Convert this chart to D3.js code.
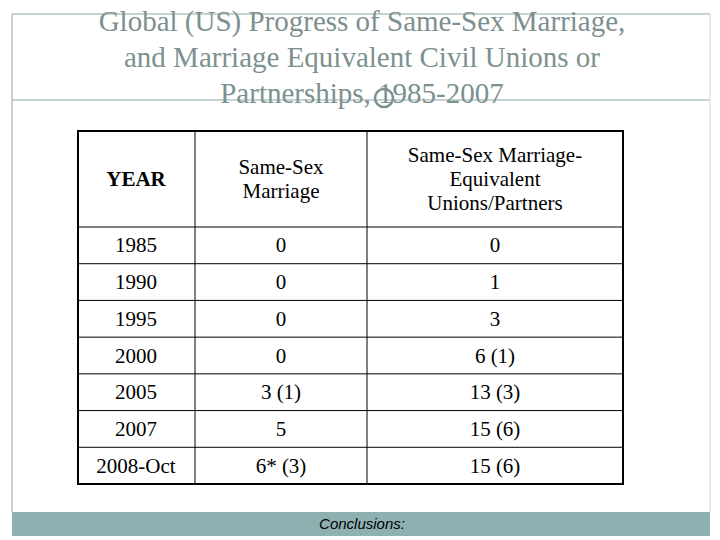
<!DOCTYPE html>
<html>
<head>
<meta charset="utf-8">
<script src="https://cdn.jsdelivr.net/npm/d3@7"></script>
<style>body{margin:0;background:#fff}</style>
</head>
<body>
<div id="slide"></div>
<script>
// table content
const titleLines = ["Global (US) Progress of Same-Sex Marriage,", "and Marriage Equivalent Civil Unions or", "Partnerships, 1985-2007"];
const headers = [["YEAR"], ["Same-Sex", "Marriage"], ["Same-Sex Marriage-", "Equivalent", "Unions/Partners"]];
const years = ["1985", "1990", "1995", "2000", "2005", "2007", "2008-Oct"];
const marriage = ["0", "0", "0", "0", "3 (1)", "5", "6* (3)"];
const unions = ["0", "1", "3", "6 (1)", "13 (3)", "15 (6)", "15 (6)"];

const width = 720, height = 540;
const svg = d3.select("#slide").append("svg")
  .attr("width", width).attr("height", height);

const frame = "#8fa5a5";
// slide frame lines
svg.append("line").attr("x1", 12).attr("x2", 710).attr("y1", 14).attr("y2", 14).attr("stroke", frame);
svg.append("line").attr("x1", 12).attr("x2", 710).attr("y1", 100).attr("y2", 100).attr("stroke", frame);
svg.append("line").attr("x1", 12).attr("x2", 12).attr("y1", 14).attr("y2", 512).attr("stroke", frame);
svg.append("line").attr("x1", 710).attr("x2", 710).attr("y1", 14).attr("y2", 512).attr("stroke", "#d0d8d8");
svg.append("rect").attr("x", 12).attr("y", 512).attr("width", 698).attr("height", 24).attr("fill", "#8fb0b0");
svg.append("text").attr("x", 362).attr("y", 529).attr("text-anchor", "middle")
  .attr("font-family", "Liberation Sans").attr("font-style", "italic").attr("font-size", 15)
  .text("Conclusions:");

svg.selectAll(".title").data(titleLines).enter().append("text")
  .attr("x", 362).attr("y", (d, i) => 31 + i * 36)
  .attr("text-anchor", "middle")
  .attr("font-family", "Liberation Serif").attr("font-size", 29)
  .attr("fill", "#7d9090")
  .text(d => d);
svg.append("circle").attr("cx", 384).attr("cy", 98).attr("r", 9)
  .attr("fill", "none").attr("stroke", "#7d9090").attr("stroke-width", 2.5);

// table
const colEdges = [78, 195, 367, 623];
const x = d3.scaleOrdinal().domain([0, 1, 2]).range([136, 281, 495]);
const tableTop = 131, headBottom = 227, tableBottom = 484;
const y = d3.scaleBand().domain(years).range([headBottom, tableBottom]);

const g = svg.append("g").attr("font-family", "Liberation Serif").attr("font-size", 21).attr("fill", "#000");

// header
headers.forEach((lines, c) => {
  const cy = (tableTop + headBottom) / 2, lh = 24;
  lines.forEach((t, i) => {
    g.append("text").attr("x", x(c))
      .attr("y", cy + (i - (lines.length - 1) / 2) * lh + 7)
      .attr("text-anchor", "middle")
      .attr("font-weight", c === 0 ? "bold" : null)
      .text(t);
  });
});

const cols = [years, marriage, unions];
cols.forEach((vals, c) => {
  g.selectAll(".c" + c).data(vals).enter().append("text")
    .attr("x", x(c))
    .attr("y", (d, i) => y(years[i]) + y.bandwidth() / 2 + 7)
    .attr("text-anchor", "middle")
    .text(d => d);
});

// grid lines
const rowLines = [headBottom].concat(years.slice(1).map(d => y(d)));
g.selectAll(".hl").data(rowLines).enter().append("line")
  .attr("x1", colEdges[0]).attr("x2", colEdges[3])
  .attr("y1", d => d).attr("y2", d => d)
  .attr("stroke", "#000").attr("stroke-width", 1);
g.selectAll(".vl").data(colEdges.slice(1, 3)).enter().append("line")
  .attr("x1", d => d).attr("x2", d => d)
  .attr("y1", tableTop).attr("y2", tableBottom)
  .attr("stroke", "#000").attr("stroke-width", 1);
g.append("rect").attr("x", colEdges[0]).attr("y", tableTop)
  .attr("width", colEdges[3] - colEdges[0]).attr("height", tableBottom - tableTop)
  .attr("fill", "none").attr("stroke", "#000").attr("stroke-width", 2);
</script>
</body>
</html>
